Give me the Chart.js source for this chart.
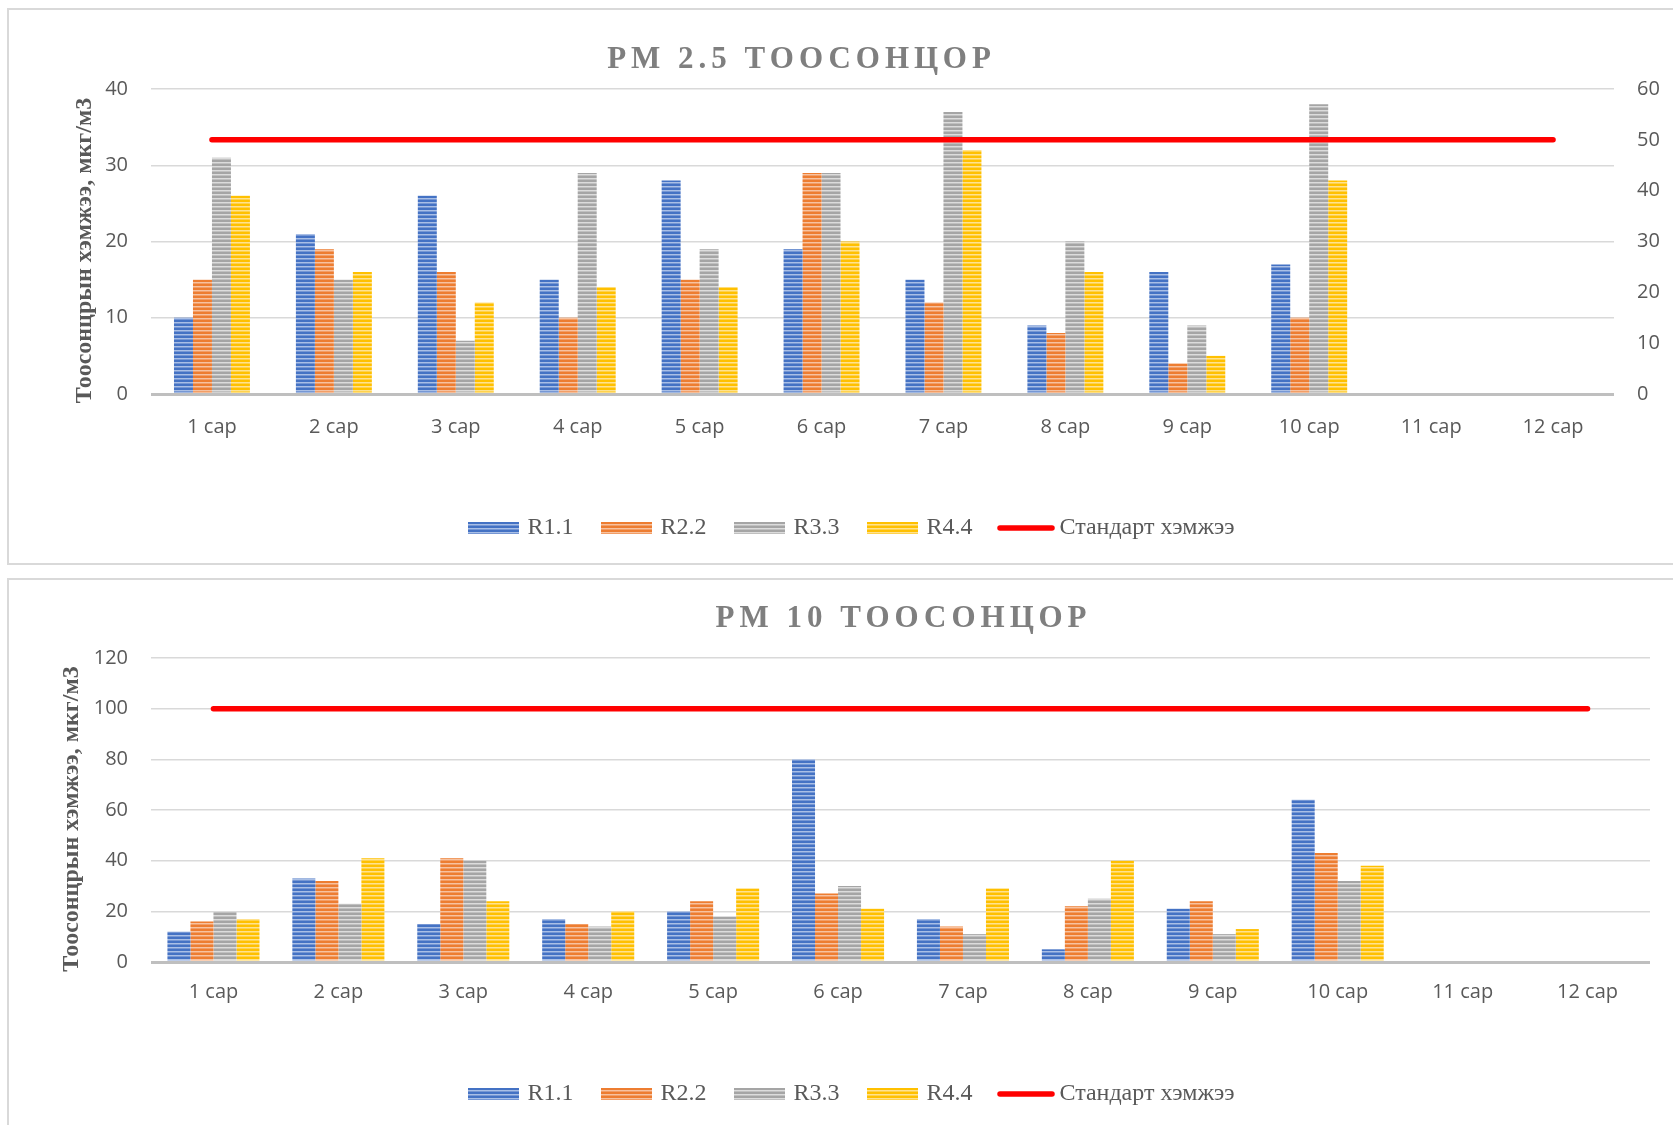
<!DOCTYPE html>
<html>
<head>
<meta charset="utf-8">
<script src="https://cdn.jsdelivr.net/npm/chart.js@4.4.1/dist/chart.umd.min.js"></script>
<style>
html,body{margin:0;background:#fff;overflow:hidden;}
body{width:1673px;height:1125px;position:relative;}
.box{position:absolute;left:7px;width:1700px;border:2px solid #d9d9d9;}
.ttl{position:absolute;left:0;font:bold 31px "Liberation Serif",serif;letter-spacing:5px;color:#7f7f7f;text-align:center;line-height:31px;white-space:nowrap;}
canvas{position:absolute;left:0;}
</style>
</head>
<body>
<div class="box" style="top:8px;height:553px"></div>
<div class="box" style="top:578px;height:600px"></div>
<canvas id="pm25" width="1673" height="564" style="top:0"></canvas>
<canvas id="pm10" width="1673" height="556" style="top:569px"></canvas>
<div class="ttl" style="top:42px;width:1603px">PM 2.5 ТООСОНЦОР</div>
<div class="ttl" style="top:601px;width:1807px">PM 10 ТООСОНЦОР</div>
<script>
const months=['1 сар','2 сар','3 сар','4 сар','5 сар','6 сар','7 сар','8 сар','9 сар','10 сар','11 сар','12 сар'];
const seriesLabels=['R1.1','R2.2','R3.3','R4.4'];
const stdLabel='Стандарт хэмжээ';
const axisTitle='Тоосонцрын хэмжээ, мкг/м3   ';

// PM 2.5 (left axis 0-40, standard on right axis 0-60)
const pm25R1=[10,21,26,15,28,19,15,9,16,17,null,null];
const pm25R2=[15,19,16,10,15,29,12,8,4,10,null,null];
const pm25R3=[31,15,7,29,19,29,37,20,9,38,null,null];
const pm25R4=[26,16,12,14,14,20,32,16,5,28,null,null];
const pm25Std=[50,50,50,50,50,50,50,50,50,50,50,50];

// PM 10
const pm10R1=[12,33,15,17,20,80,17,5,21,64,null,null];
const pm10R2=[16,32,41,15,24,27,14,22,24,43,null,null];
const pm10R3=[20,23,40,14,18,30,11,25,11,32,null,null];
const pm10R4=[17,41,24,20,29,21,29,40,13,38,null,null];
const pm10Std=[100,100,100,100,100,100,100,100,100,100,100,100];

const barColors=['#4472c4','#ed7d31','#a5a5a5','#ffc000'];
const lightColors=['#a9bfe6','#f7c2a0','#dcdcdc','#ffe28f'];
const midColors=['#7697d4','#f29e67','#c0c0c0','#ffd24d'];
const tickFont={family:'Open Sans',size:20};

function stripeRow(y,i){
  const r=y%4;
  if(r===2) return lightColors[i];
  if(r===3) return midColors[i];
  return barColors[i];
}

function stripes(ctx,i){
  const c=document.createElement('canvas'); c.width=4; c.height=4;
  const g=c.getContext('2d');
  for(let y=0;y<4;y++){ g.fillStyle=stripeRow(y,i); g.fillRect(0,y,4,1); }
  return ctx.createPattern(c,'repeat');
}

function legendIcon(i){
  const c=document.createElement('canvas'); c.width=51; c.height=12;
  const g=c.getContext('2d');
  for(let y=0;y<12;y++){ g.fillStyle=stripeRow(y,i); g.fillRect(0,y,51,1); }
  return c;
}

function lineIcon(){
  const c=document.createElement('canvas'); c.width=58; c.height=8;
  const g=c.getContext('2d');
  g.strokeStyle='#ff0000'; g.lineWidth=5.5; g.lineCap='round';
  g.beginPath(); g.moveTo(3,4); g.lineTo(55,4); g.stroke();
  return c;
}

function makeChart(id,series,std,cfg){
  const ctx=document.getElementById(id).getContext('2d');
  const datasets=series.map((d,i)=>({
    type:'bar', label:seriesLabels[i], data:d,
    backgroundColor:stripes(ctx,i),
    barPercentage:1, categoryPercentage:cfg.catPct, yAxisID:'y', order:1
  }));
  datasets.push({
    type:'line', label:stdLabel, data:std, yAxisID:cfg.stdAxis, order:0,
    borderColor:'#ff0000', borderWidth:5.5, borderCapStyle:'round', pointRadius:0, fill:false
  });
  const icons=seriesLabels.map((s,i)=>legendIcon(i)).concat([lineIcon()]);

  const scales={
    x:{
      grid:{display:false,drawTicks:false}, border:{display:false},
      ticks:{color:'#595959',font:tickFont,padding:cfg.xPad},
      afterFit:s=>{s.height=cfg.xHeight;}
    },
    y:{
      min:0, max:cfg.yMax,
      ticks:{stepSize:cfg.step,color:'#595959',font:tickFont,padding:23},
      grid:{drawTicks:false,
        color:c=>c.tick.value===0?'#bfbfbf':'#d9d9d9',
        lineWidth:c=>c.tick.value===0?3:1.5},
      border:{display:false},
      title:{display:true,text:axisTitle,color:'#595959',padding:{top:cfg.titlePad,bottom:0},
        font:{family:'Liberation Serif',size:24,weight:'bold'}},
      afterFit:s=>{s.width=cfg.yWidth;}
    }
  };
  if(cfg.stdAxis==='y2'){
    scales.y2={
      position:'right', min:0, max:cfg.y2Max,
      ticks:{stepSize:cfg.step,color:'#595959',font:tickFont,padding:23},
      grid:{display:false,drawTicks:false}, border:{display:false},
      afterFit:s=>{s.width=cfg.y2Width;}
    };
  }

  new Chart(ctx,{
    type:'bar',
    data:{labels:months,datasets},
    options:{
      responsive:false,
      animation:false,
      layout:{padding:cfg.padding},
      scales,
      plugins:{
        title:{display:false},
        tooltip:{enabled:false},
        legend:{
          position:'bottom',
          labels:{
            usePointStyle:true, pointStyleWidth:43, boxHeight:12, padding:32,
            color:'#595959', font:{family:'Liberation Serif',size:24},
            generateLabels:chart=>chart.data.datasets.map((d,i)=>({
              text:d.label, pointStyle:icons[i], fillStyle:'transparent',
              strokeStyle:'transparent', lineWidth:0, fontColor:'#595959',
              hidden:false, datasetIndex:i
            }))
          }
        }
      }
    }
  });
}

makeChart('pm25',[pm25R1,pm25R2,pm25R3,pm25R4],pm25Std,{
  catPct:0.623, yMax:40, y2Max:60, step:10, stdAxis:'y2',
  padding:{left:43,right:9,top:89,bottom:14},
  yWidth:108, y2Width:50, titlePad:27, xPad:21, xHeight:90
});

makeChart('pm10',[pm10R1,pm10R2,pm10R3,pm10R4],pm10Std,{
  catPct:0.737, yMax:120, step:20, stdAxis:'y',
  padding:{left:57,right:23,top:89,bottom:9},
  yWidth:94, titlePad:0, xPad:18, xHeight:88
});
</script>
</body>
</html>
